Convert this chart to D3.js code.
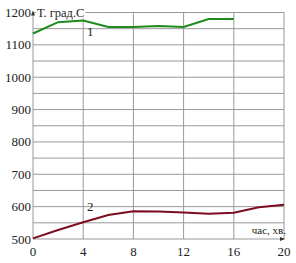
<!DOCTYPE html>
<html>
<head>
<meta charset="utf-8">
<script src="https://cdn.jsdelivr.net/npm/d3@7"></script>
<style>
  body { margin: 0; background: #fff; }
  svg { display: block; }
</style>
</head>
<body>
<div id="container"></div>
<script>
/* CONSTANTS AND GLOBALS */
const width = 296,
  height = 263,
  margin = { top: 12.5, bottom: 24, left: 33, right: 12 };

// time, min
const hours = [0, 2, 4, 6, 8, 10, 12, 14, 16, 18, 20];
// curve 1 (green), to 16 only
const temp1 = [1135, 1170, 1175, 1155, 1155, 1158, 1155, 1180, 1180];
// curve 2 (dark red)
const temp2 = [502, 528, 552, 574, 586, 585, 582, 578, 581, 598, 606];

const xTicks = [0, 4, 8, 12, 16, 20];
const yTicks = [500, 600, 700, 800, 900, 1000, 1100, 1200];
const yGrid = d3.range(500, 1201, 50);

const yTitle = "Т. град.С";
const xTitle = "час, хв.";

const svg = d3.select("#container")
  .append("svg")
  .attr("width", width)
  .attr("height", height)
  .attr("font-family", "'Liberation Serif', 'Times New Roman', 'DejaVu Serif', serif");

const xScale = d3.scaleLinear()
  .domain([0, 20])
  .range([margin.left, width - margin.right]);

const yScale = d3.scaleLinear()
  .domain([500, 1200])
  .range([height - margin.bottom, margin.top]);

// grid
svg.append("g")
  .selectAll("line.h")
  .data(yGrid)
  .join("line")
  .attr("x1", xScale(0))
  .attr("x2", xScale(20))
  .attr("y1", d => yScale(d))
  .attr("y2", d => yScale(d))
  .attr("stroke", "#999")
  .attr("stroke-width", 1);

svg.append("g")
  .selectAll("line.v")
  .data(xTicks)
  .join("line")
  .attr("x1", d => xScale(d))
  .attr("x2", d => xScale(d))
  .attr("y1", yScale(500))
  .attr("y2", yScale(1200))
  .attr("stroke", "#999")
  .attr("stroke-width", 1);

// tick labels
svg.append("g")
  .selectAll("text")
  .data(yTicks)
  .join("text")
  .attr("x", xScale(0) - 2)
  .attr("y", d => yScale(d) + 4.5)
  .attr("text-anchor", "end")
  .attr("font-size", 13)
  .attr("fill", "#222")
  .text(d => d);

svg.append("g")
  .selectAll("text")
  .data(xTicks)
  .join("text")
  .attr("x", d => xScale(d))
  .attr("y", yScale(500) + 17)
  .attr("text-anchor", "middle")
  .attr("font-size", 13)
  .attr("fill", "#222")
  .text(d => d);

// axis titles with white background
const yBg = svg.append("rect").attr("fill", "#fff");
const yT = svg.append("text")
  .attr("x", xScale(0) + 4)
  .attr("y", yScale(1200) + 4)
  .attr("font-size", 12.5)
  .attr("fill", "#222")
  .text(yTitle);
const bb = yT.node().getBBox();
yBg
  .attr("x", bb.x - 1)
  .attr("y", bb.y + 1)
  .attr("width", bb.width + 2)
  .attr("height", bb.height - 2);

svg.append("text")
  .attr("x", xScale(20) + 2)
  .attr("y", yScale(500) - 5)
  .attr("text-anchor", "end")
  .attr("font-size", 11)
  .attr("fill", "#222")
  .text(xTitle);

// axis arrows
svg.append("path")
  .attr("d", `M${xScale(0) - 2},${yScale(1200) + 3} L${xScale(0)},${yScale(1200) - 2} L${xScale(0) + 2},${yScale(1200) + 3} Z`)
  .attr("fill", "#333");
svg.append("path")
  .attr("d", `M${xScale(20) - 4},${yScale(500) - 2} L${xScale(20) + 1},${yScale(500)} L${xScale(20) - 4},${yScale(500) + 2} Z`)
  .attr("fill", "#333");

// lines
const line = d3.line()
  .x((d, i) => xScale(hours[i]))
  .y(d => yScale(d));

svg.append("path")
  .datum(temp1)
  .attr("fill", "none")
  .attr("stroke", "#1f8a1f")
  .attr("stroke-width", 2)
  .attr("d", line);

svg.append("path")
  .datum(temp2)
  .attr("fill", "none")
  .attr("stroke", "#7b0d1e")
  .attr("stroke-width", 2)
  .attr("d", line);

// curve labels
svg.append("text")
  .attr("x", xScale(4.3))
  .attr("y", yScale(1140) + 4.5)
  .attr("font-size", 13)
  .attr("fill", "#222")
  .text("1");

svg.append("text")
  .attr("x", xScale(4.3))
  .attr("y", yScale(600) + 4.5)
  .attr("font-size", 13)
  .attr("fill", "#222")
  .text("2");
</script>
</body>
</html>
